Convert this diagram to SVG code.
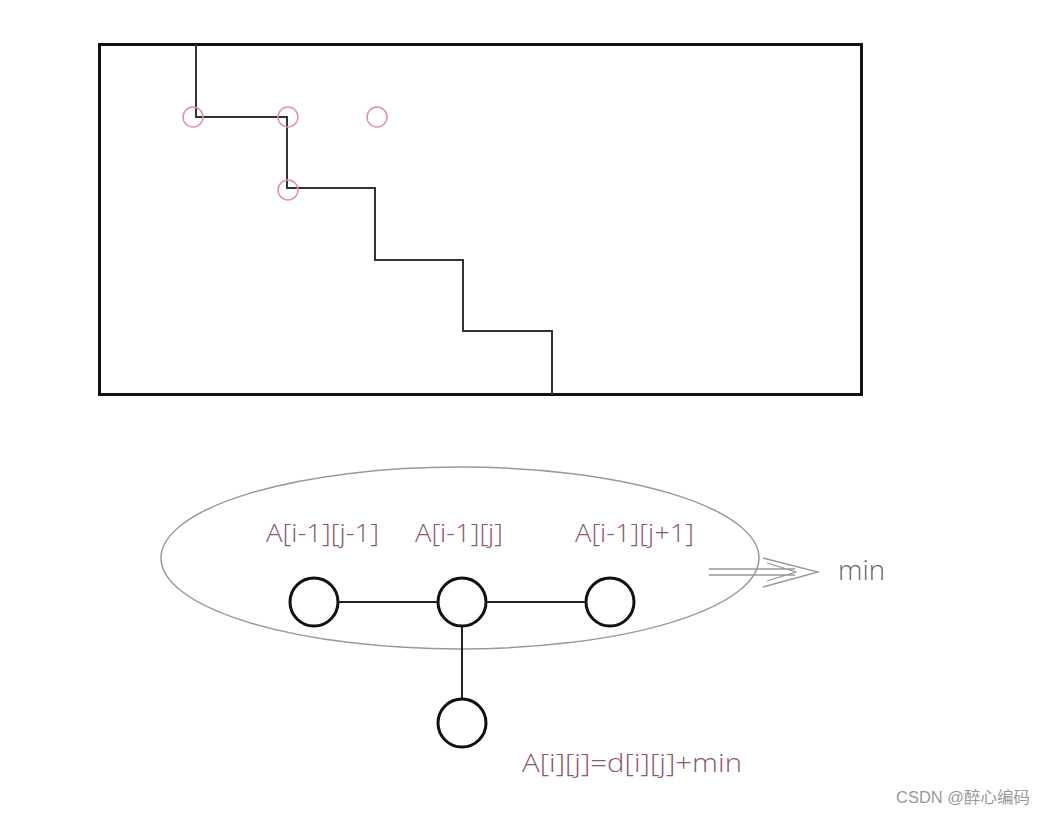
<svg xmlns="http://www.w3.org/2000/svg" width="1047" height="815" viewBox="0 0 1047 815">
<style>
.lbl{font-family:"Open Sans","Noto Sans",sans-serif;font-weight:300;font-size:26px;fill:#8a5868}
.gray{font-family:"Open Sans","Noto Sans",sans-serif;font-weight:300;font-size:27px;fill:#666}
.red{fill:none;stroke:#e4909c;stroke-width:1.5}
.node{fill:#fff;stroke:#111;stroke-width:3}
.edge{stroke:#222;stroke-width:2;fill:none}
</style>
<rect width="1047" height="815" fill="#fff"/>
<g id="grid">
<rect x="99.5" y="44.5" width="762" height="350" fill="none" stroke="#111" stroke-width="3"/>
<path d="M196 44 V117 H287 V188 H375 V260 H463 V331 H552 V394" fill="none" stroke="#333" stroke-width="2"/>
<circle class="red" cx="193" cy="117" r="10"/>
<circle class="red" cx="288" cy="117" r="10"/>
<circle class="red" cx="377" cy="117" r="10"/>
<circle class="red" cx="288" cy="190" r="10"/>
</g>
<ellipse id="group" cx="460" cy="558" rx="299" ry="91" fill="none" stroke="#999" stroke-width="1.5"/>
<g id="connectors">
<line class="edge" x1="338" y1="602" x2="438" y2="602"/>
<line class="edge" x1="486" y1="602" x2="586" y2="602"/>
<line class="edge" x1="462" y1="626" x2="462" y2="699" stroke-width="2.5"/>
<path d="M709 569 H795 M709 575 H795 M763 558 L818 572 L763 587 M767 563 L796 572 L767 581" fill="none" stroke="#999" stroke-width="1.3"/>
</g>
<g id="n1"><circle class="node" cx="314" cy="602" r="24"/><text class="lbl" x="266" y="542" textLength="113" lengthAdjust="spacingAndGlyphs">A[i-1][j-1]</text></g>
<g id="n2"><circle class="node" cx="462" cy="602" r="24"/><text class="lbl" x="415" y="542" textLength="88" lengthAdjust="spacingAndGlyphs">A[i-1][j]</text></g>
<g id="n3"><circle class="node" cx="610" cy="602" r="24"/><text class="lbl" x="575" y="542" textLength="119" lengthAdjust="spacingAndGlyphs">A[i-1][j+1]</text></g>
<g id="n4"><circle class="node" cx="462" cy="723" r="24"/><text class="lbl" x="522" y="772" textLength="220" lengthAdjust="spacingAndGlyphs">A[i][j]=d[i][j]+min</text></g>
<text class="gray" x="838" y="580" textLength="47" lengthAdjust="spacingAndGlyphs">min</text>
<text x="896" y="803" font-family="'Liberation Sans','Noto Sans CJK SC',sans-serif" font-size="16" fill="#999" textLength="134" lengthAdjust="spacingAndGlyphs">CSDN @醉心编码</text>
</svg>
